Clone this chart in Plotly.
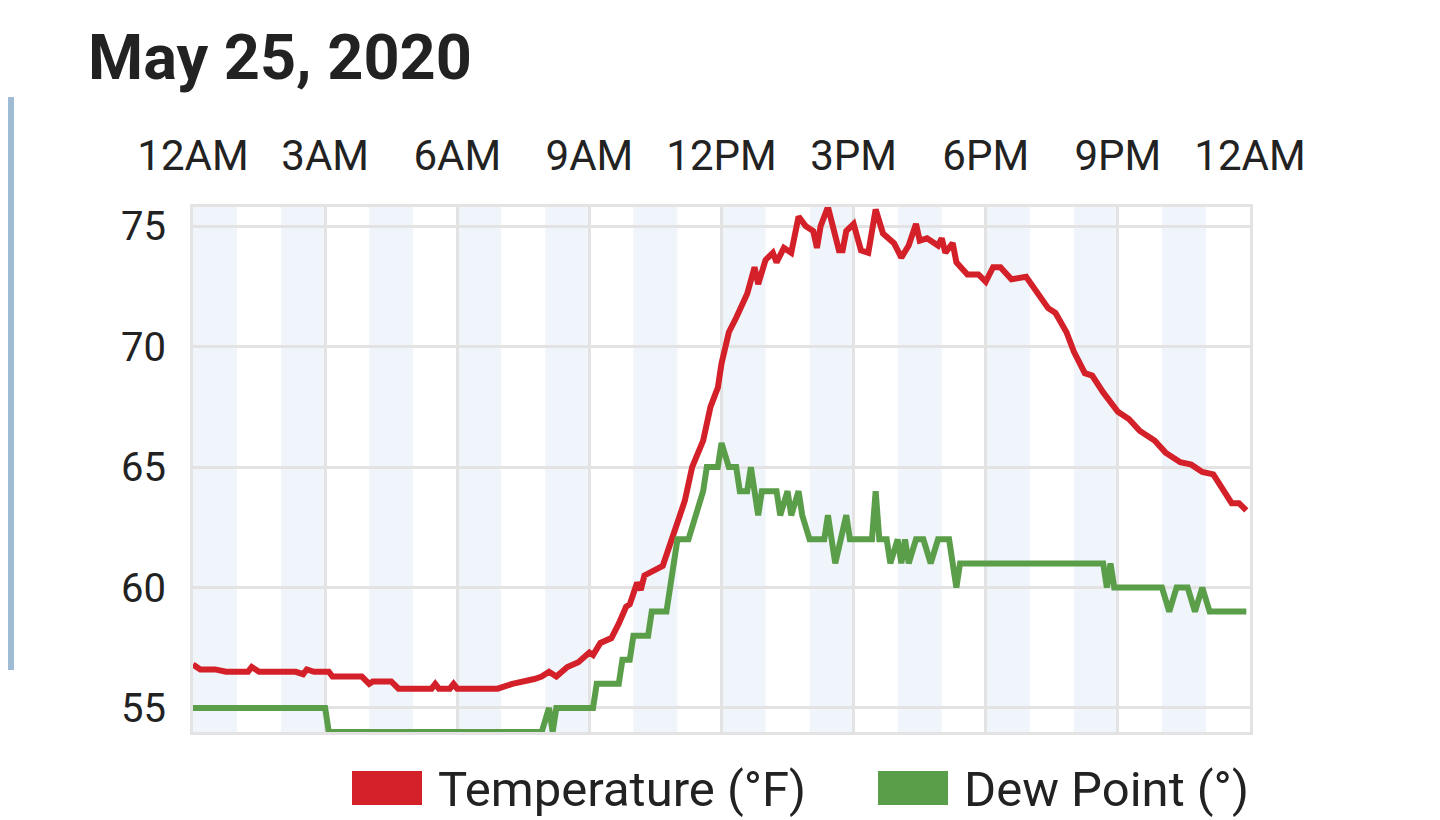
import plotly.graph_objects as go

day = "2020-05-25"
next_day = "2020-05-26"

# temperature readings (°F)
temp_times = ["00:00", "00:10", "00:30", "00:45", "01:15", "01:20", "01:30", "02:20", "02:30", "02:35",
              "02:45", "03:05", "03:10", "03:50", "04:00", "04:05", "04:30", "04:40", "05:25", "05:30",
              "05:35", "05:50", "05:55", "06:00", "06:55", "07:15", "07:45", "07:55", "08:05", "08:15",
              "08:30", "08:45", "09:00", "09:05", "09:15", "09:30", "09:40", "09:50", "09:55", "10:05",
              "10:10", "10:15", "10:40", "10:50", "11:00", "11:10", "11:20", "11:35", "11:45", "11:55",
              "12:00", "12:10", "12:20", "12:30", "12:35", "12:45", "12:50", "13:00", "13:10", "13:15",
              "13:25", "13:35", "13:45", "13:55", "14:05", "14:10", "14:15", "14:25", "14:30", "14:40",
              "14:45", "14:50", "15:00", "15:10", "15:20", "15:30", "15:40", "15:55", "16:05", "16:15",
              "16:25", "16:30", "16:40", "16:55", "17:00", "17:05", "17:15", "17:20", "17:35", "17:50",
              "18:00", "18:10", "18:20", "18:35", "18:55", "19:10", "19:25", "19:35", "19:50", "20:00",
              "20:15", "20:25", "20:40", "21:00", "21:15", "21:30", "21:50", "22:05", "22:15", "22:25",
              "22:40", "22:55", "23:10", "23:25", "23:35", "23:45", "23:55"]
temp_values = [56.8, 56.6, 56.6, 56.5, 56.5, 56.7, 56.5, 56.5, 56.4, 56.6,
               56.5, 56.5, 56.3, 56.3, 56.0, 56.1, 56.1, 55.8, 55.8, 56.0,
               55.8, 55.8, 56.0, 55.8, 55.8, 56.0, 56.2, 56.3, 56.5, 56.3,
               56.7, 56.9, 57.3, 57.2, 57.7, 57.9, 58.5, 59.2, 59.3, 60.2,
               59.9, 60.5, 60.9, 61.8, 62.8, 63.6, 65.0, 66.1, 67.5, 68.3,
               69.3, 70.6, 71.2, 71.8, 72.2, 73.3, 72.6, 73.6, 73.9, 73.5,
               74.1, 73.9, 75.4, 75.0, 74.8, 74.1, 75.0, 75.8, 75.2, 74.0,
               74.0, 74.8, 75.1, 74.0, 73.9, 75.7, 74.7, 74.3, 73.7, 74.2,
               75.1, 74.4, 74.5, 74.2, 74.5, 73.9, 74.3, 73.5, 73.0, 73.0,
               72.7, 73.3, 73.3, 72.8, 72.9, 72.2, 71.6, 71.4, 70.6, 69.8,
               68.9, 68.8, 68.1, 67.3, 67.0, 66.5, 66.1, 65.6, 65.4, 65.2,
               65.1, 64.8, 64.7, 64.0, 63.5, 63.5, 63.2]

# dew point readings
dew_times = ["00:00", "03:00", "03:05", "07:55", "08:05", "08:10", "08:15", "09:05", "09:10", "09:40",
             "09:45", "09:55", "10:00", "10:20", "10:25", "10:45", "10:50", "10:55", "11:00", "11:15",
             "11:25", "11:35", "11:40", "11:55", "12:00", "12:10", "12:20", "12:25", "12:35", "12:40",
             "12:50", "12:55", "13:15", "13:20", "13:30", "13:35", "13:45", "13:50", "14:00", "14:20",
             "14:25", "14:35", "14:50", "14:55", "15:25", "15:30", "15:35", "15:45", "15:50", "16:00",
             "16:05", "16:10", "16:15", "16:25", "16:35", "16:45", "16:55", "17:10", "17:20", "17:25",
             "20:40", "20:45", "20:50", "20:55", "22:00", "22:10", "22:20", "22:35", "22:45", "22:55",
             "23:05", "23:55"]
dew_values = [55, 55, 54, 54, 55, 54, 55, 55, 56, 56,
              57, 57, 58, 58, 59, 59, 60, 61, 62, 62,
              63, 64, 65, 65, 66, 65, 65, 64, 64, 65,
              63, 64, 64, 63, 64, 63, 64, 63, 62, 62,
              63, 61, 63, 62, 62, 64, 62, 62, 61, 62,
              61, 62, 61, 62, 62, 61, 62, 62, 60, 61,
              61, 60, 61, 60, 60, 59, 60, 60, 59, 60,
              59, 59]

tick_times = [f"{day} {h:02d}:00" for h in range(0, 24, 3)] + [f"{next_day} 00:00"]
tick_labels = ["12AM", "3AM", "6AM", "9AM", "12PM", "3PM", "6PM", "9PM", "12AM"]
y_ticks = [55, 60, 65, 70, 75]

RED = "#d42029"
GREEN = "#5b9e4a"
GRID = "#e3e3e3"
TXT = "#222222"

# page puts the plot 8px in from the corner, so the figure is 8px smaller
W, H = 1432, 812
L, T = 185, 199
PW, PH = 1057, 525

def px_x(px):
    return (px - 8 - L) / PW

def px_y(py):
    return (T + PH - (py - 8)) / PH

fig = go.Figure()
fig.add_trace(go.Scatter(x=[f"{day} {t}" for t in temp_times], y=temp_values, mode="lines",
                         name="Temperature (°F)", line=dict(color=RED, width=6), showlegend=False))
fig.add_trace(go.Scatter(x=[f"{day} {t}" for t in dew_times], y=dew_values, mode="lines",
                         name="Dew Point (°)", line=dict(color=GREEN, width=6), showlegend=False))

# shaded every other hour
for h in range(0, 24, 2):
    fig.add_shape(type="rect", xref="x", yref="paper",
                  x0=f"{day} {h:02d}:00", x1=f"{day} {h + 1:02d}:00", y0=0, y1=1,
                  fillcolor="#eff5fa", line_width=0, layer="below")

# side panel edge at the left
fig.add_shape(type="rect", xref="paper", yref="paper", x0=px_x(0), x1=px_x(14), y0=px_y(670), y1=px_y(97),
              fillcolor="#a0bbd4", line_width=0)

# legend drawn by hand (filled boxes)
legend_items = [(352, RED, "Temperature (°F)"), (878, GREEN, "Dew Point (°)")]
for px, col, label in legend_items:
    fig.add_shape(type="rect", xref="paper", yref="paper", x0=px_x(px), x1=px_x(px + 70),
                  y0=px_y(805), y1=px_y(771), fillcolor=col, line_width=0)
    fig.add_annotation(text=label, xref="paper", yref="paper", x=px_x(px + 84),
                       y=px_y(789), xanchor="left", yanchor="middle", showarrow=False,
                       font=dict(family="Roboto", size=49, color=TXT))

fig.update_layout(
    width=W, height=H,
    margin=dict(l=L, r=W - L - PW, t=T, b=H - T - PH),
    paper_bgcolor="white", plot_bgcolor="white",
    title=dict(text="<b>May 25, 2020</b>", x=(88 - 8) / W, xanchor="left", y=1 - (57 - 8) / H, yanchor="middle",
               font=dict(family="Roboto", size=63, color=TXT)),
    font=dict(family="Roboto", color=TXT),
)
fig.update_xaxes(
    type="date", side="top", range=[f"{day} 00:00", f"{next_day} 00:00"],
    tickvals=tick_times, ticktext=tick_labels, ticks="", ticklabelstandoff=17,
    tickfont=dict(size=42, color=TXT, family="Roboto"),
    showgrid=True, gridcolor=GRID, gridwidth=3,
    showline=True, linecolor=GRID, linewidth=3, mirror=True, zeroline=False,
)
fig.update_yaxes(
    range=[54.0, 75.8], tickvals=y_ticks, ticks="", ticklabelstandoff=16,
    tickfont=dict(size=40, color=TXT, family="Roboto"),
    showgrid=True, gridcolor=GRID, gridwidth=3,
    showline=True, linecolor=GRID, linewidth=3, mirror=True, zeroline=False,
)

fig.write_html("out.html")
